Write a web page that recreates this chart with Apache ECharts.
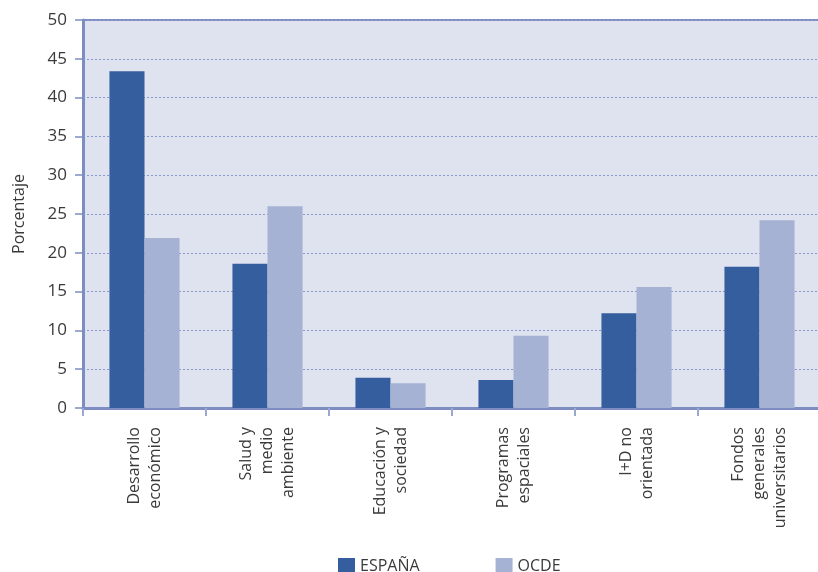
<!DOCTYPE html>
<html>
<head>
<meta charset="utf-8">
<script src="https://cdn.jsdelivr.net/npm/echarts@6/dist/echarts.min.js"></script>
<style>
  html, body { margin: 0; padding: 0; background: #ffffff; overflow: hidden; }
  #chart { width: 818px; height: 572px; }
</style>
</head>
<body>
<div id="chart"></div>
<script>
// Distribución por objetivos socioeconómicos (%)
const categories = [
  'Desarrollo\neconómico',
  'Salud y\nmedio\nambiente',
  'Educación y\nsociedad',
  'Programas\nespaciales',
  'I+D no\norientada',
  'Fondos\ngenerales\nuniversitarios'
];
const espana = [43.4, 18.6, 3.9, 3.6, 12.2, 18.2];
const ocde = [21.9, 26.0, 3.2, 9.3, 15.6, 24.2];
const yTicks = { min: 0, max: 50, interval: 5 };

const textColor = '#3a3a3a';
const axisBlue = '#7d8dc2';
const fontFamily = '"Open Sans", "Noto Sans", sans-serif';

const chart = echarts.init(document.getElementById('chart'));
chart.setOption({
  animation: false,
  textStyle: { fontFamily: fontFamily, color: textColor },
  grid: {
    left: 83, top: 20, width: 738, height: 388,
    outerBoundsMode: 'none',
    containLabel: false,
    show: true,
    backgroundColor: '#dfe2ef',
    borderColor: axisBlue,
    borderWidth: 2
  },
  legend: {
    left: 333, top: 553,
    itemWidth: 17, itemHeight: 17, itemGap: 76,
    icon: 'rect',
    textStyle: { fontSize: 16, color: textColor, fontFamily: fontFamily },
    data: ['ESPAÑA', 'OCDE']
  },
  xAxis: {
    type: 'category',
    data: categories,
    axisLine: { lineStyle: { color: axisBlue, width: 3 } },
    axisTick: { show: true, length: 8, lineStyle: { color: '#9aa8d4', width: 2 } },
    axisLabel: {
      rotate: 90, margin: 19, fontSize: 16, lineHeight: 21,
      color: textColor, align: 'right', verticalAlign: 'middle', interval: 0
    }
  },
  yAxis: {
    type: 'value',
    min: yTicks.min, max: yTicks.max, interval: yTicks.interval,
    name: 'Porcentaje',
    nameLocation: 'middle',
    nameRotate: 90,
    nameGap: 56,
    nameTextStyle: { fontSize: 16, color: textColor, fontFamily: fontFamily },
    axisLine: { show: true, lineStyle: { color: axisBlue, width: 3 } },
    axisTick: { show: true, length: 8, lineStyle: { color: axisBlue, width: 1.5 } },
    axisLabel: { fontSize: 17, margin: 16, color: textColor },
    splitLine: { lineStyle: { color: '#8a98cc', type: [2, 2], width: 1 } }
  },
  series: [
    {
      name: 'ESPAÑA', type: 'bar', data: espana,
      itemStyle: { color: '#345e9e' },
      barGap: '0%', barCategoryGap: '43%'
    },
    {
      name: 'OCDE', type: 'bar', data: ocde,
      itemStyle: { color: '#a5b2d4' },
      barGap: '0%', barCategoryGap: '43%'
    }
  ]
});
</script>
</body>
</html>
